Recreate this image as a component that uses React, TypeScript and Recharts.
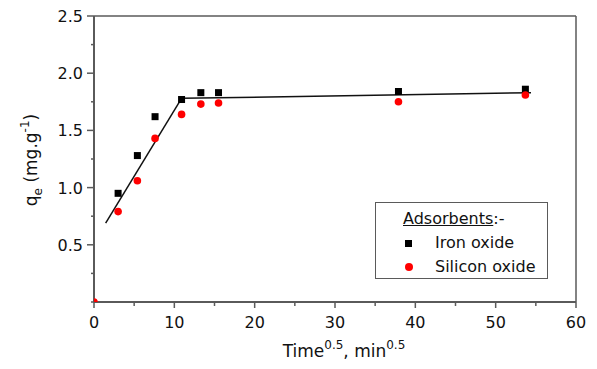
import React from 'react';
import {
  ComposedChart, Scatter, Line, XAxis, YAxis, ReferenceLine, Legend, Label,
} from 'recharts';

const ironX = [3.0, 5.4, 7.6, 10.9, 13.3, 15.5, 37.9, 53.7];
const ironY = [0.95, 1.28, 1.62, 1.77, 1.83, 1.83, 1.84, 1.86];
const siliconX = [0, 3.0, 5.4, 7.6, 10.9, 13.3, 15.5, 37.9, 53.7];
const siliconY = [0, 0.79, 1.06, 1.43, 1.64, 1.73, 1.74, 1.75, 1.81];
const fit1X = [1.45, 10.9];
const fit1Y = [0.69, 1.78];
const fit2X = [10.9, 54.4];
const fit2Y = [1.78, 1.83];
const xTicks = [0, 5, 10, 15, 20, 25, 30, 35, 40, 45, 50, 55, 60];
const xLabels = [0, 10, 20, 30, 40, 50, 60];
const yTicks = [0, 0.25, 0.5, 0.75, 1.0, 1.25, 1.5, 1.75, 2.0, 2.25, 2.5];
const yLabels = ['0.5', '1.0', '1.5', '2.0', '2.5'];

const ironData = ironX.map((x, i) => ({ x, y: ironY[i] }));
const siliconData = siliconX.map((x, i) => ({ x, y: siliconY[i] }));
const fit1 = fit1X.map((x, i) => ({ x, y: fit1Y[i] }));
const fit2 = fit2X.map((x, i) => ({ x, y: fit2Y[i] }));

const FONT = '"DejaVu Sans", sans-serif';
const AXIS = '#5a5a5a';

const XTick = (props: any) => {
  const { x, y, payload } = props;
  const v = payload.value;
  const major = xLabels.includes(v);
  return (
    <g>
      <line x1={x} x2={x} y1={y} y2={y + (major ? 6 : 4)} stroke={AXIS} strokeWidth={1.5} />
      {major && (
        <text x={x} y={y + 26} textAnchor="middle" fontFamily={FONT} fontSize={16} fill="#111">
          {String(v)}
        </text>
      )}
    </g>
  );
};

const YTick = (props: any) => {
  const { x, y, payload } = props;
  const v = payload.value;
  const label = v.toFixed(1);
  const major = yLabels.includes(label) && Math.abs(v * 2 - Math.round(v * 2)) < 1e-6;
  return (
    <g>
      <line x1={x} x2={x - (major ? 7 : 3)} y1={y} y2={y} stroke={AXIS} strokeWidth={1.5} />
      {major && (
        <text x={x - 11} y={y + 6} textAnchor="end" fontFamily={FONT} fontSize={16} fill="#111">
          {label}
        </text>
      )}
    </g>
  );
};

const XTitle = (props: any) => {
  const { viewBox } = props;
  const cx = viewBox.x + viewBox.width / 2 + 9;
  return (
    <text x={cx} y={357} textAnchor="middle" fontFamily={FONT} fontSize={17} fill="#111">
      Time<tspan fontSize={12} dy={-8}>0.5</tspan><tspan dy={8}>, min</tspan><tspan fontSize={12} dy={-8}>0.5</tspan>
    </text>
  );
};

const YTitle = () => {
  return (
    <text
      x={0}
      y={0}
      transform="translate(37,160) rotate(-90)"
      textAnchor="middle"
      fontFamily={FONT}
      fontSize={17}
      fill="#111"
    >
      q<tspan fontSize={12} dy={5}>e</tspan><tspan dy={-5}> (mg.g</tspan><tspan fontSize={12} dy={-8}>-1</tspan><tspan dy={8}>)</tspan>
    </text>
  );
};

const Square = (props: any) => {
  const { cx, cy } = props;
  return <rect x={cx - 3.5} y={cy - 3.5} width={7} height={7} fill="#000" />;
};
const Dot = (props: any) => {
  const { cx, cy } = props;
  return <circle cx={cx} cy={cy} r={3.8} fill="#ff0000" />;
};

const LegendBox = () => (
  <div
    style={{
      position: 'relative',
      width: 173,
      height: 77,
      boxSizing: 'border-box',
      border: `1.5px solid ${AXIS}`,
      background: '#fff',
      fontFamily: FONT,
      fontSize: 16,
      color: '#111',
    }}
  >
    <div style={{ position: 'absolute', left: 27, top: 6, lineHeight: '20px', whiteSpace: 'nowrap' }}>
      <span style={{ textDecoration: 'underline' }}>Adsorbents</span>:-
    </div>
    <div style={{ position: 'absolute', left: 29, top: 37, width: 7, height: 7, background: '#000' }} />
    <div style={{ position: 'absolute', left: 59, top: 30, lineHeight: '20px', whiteSpace: 'nowrap' }}>Iron oxide</div>
    <div style={{ position: 'absolute', left: 29, top: 60, width: 8, height: 8, borderRadius: 4, background: '#ff0000' }} />
    <div style={{ position: 'absolute', left: 59, top: 54, lineHeight: '20px', whiteSpace: 'nowrap' }}>Silicon oxide</div>
  </div>
);

export default function App() {
  return (
    <div style={{ position: 'absolute', left: 0, top: 0, background: '#fff' }}>
      <ComposedChart
        width={597}
        height={369}
        margin={{ top: 16, right: 21, bottom: 0, left: 0 }}
      >
        <XAxis
          dataKey="x"
          type="number"
          domain={[0, 60]}
          ticks={xTicks}
          interval={0}
          height={67}
          tickSize={0}
          tickMargin={0}
          tick={<XTick />}
          axisLine={{ stroke: AXIS, strokeWidth: 2 }}
          allowDataOverflow
        >
          <Label content={<XTitle />} />
        </XAxis>
        <YAxis
          dataKey="y"
          type="number"
          domain={[0, 2.5]}
          ticks={yTicks}
          interval={0}
          width={94}
          tickSize={0}
          tickMargin={0}
          tick={<YTick />}
          axisLine={{ stroke: AXIS, strokeWidth: 2 }}
          allowDataOverflow
        >
          <Label content={<YTitle />} />
        </YAxis>
        <ReferenceLine y={2.5} stroke={AXIS} strokeWidth={1.5} />
        <ReferenceLine x={60} stroke={AXIS} strokeWidth={1.5} />
        <Line data={fit1} dataKey="y" stroke="#111" strokeWidth={1.5} dot={false} isAnimationActive={false} legendType="none" />
        <Line data={fit2} dataKey="y" stroke="#111" strokeWidth={1.5} dot={false} isAnimationActive={false} legendType="none" />
        <Scatter name="Iron oxide" data={ironData} shape={<Square />} isAnimationActive={false} />
        <Scatter name="Silicon oxide" data={siliconData} shape={<Dot />} isAnimationActive={false} />
        <Legend
          layout="vertical"
          align="center"
          verticalAlign="middle"
          content={<LegendBox />}
          wrapperStyle={{ left: 375, top: 202, width: 173, height: 77, bottom: 'auto', right: 'auto' }}
        />
      </ComposedChart>
    </div>
  );
}
